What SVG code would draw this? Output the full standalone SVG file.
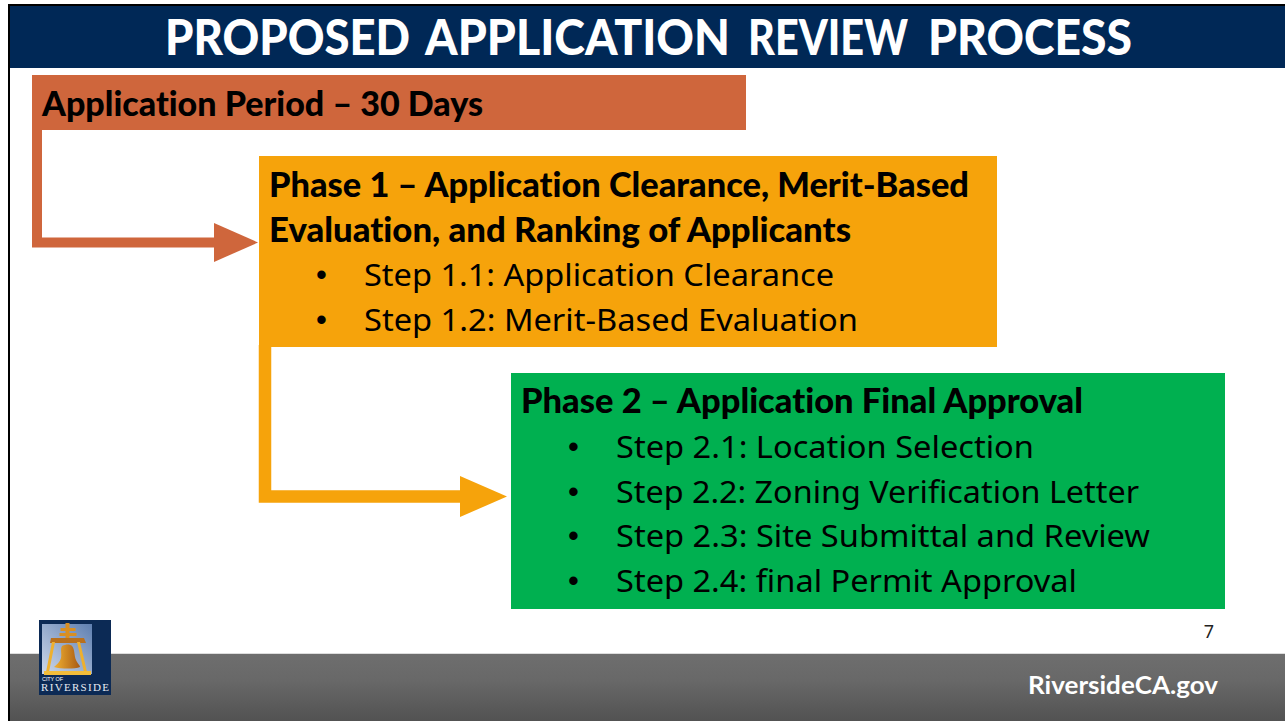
<svg xmlns="http://www.w3.org/2000/svg" width="1285" height="721" viewBox="0 0 1285 721">
<style>
text{font-variant-ligatures:none}
.h{font-family:"Lato","Liberation Sans",sans-serif;font-weight:900;font-size:33.500px;fill:#000}
.s{font-family:"Noto Sans","Liberation Sans",sans-serif;font-size:31.500px;fill:#000}
.b{font-family:"Liberation Sans",sans-serif;font-size:31px;fill:#000}
.t{font-family:"Lato","Liberation Sans",sans-serif;font-weight:900;font-size:49px;fill:#fff}
</style>
<defs>
<linearGradient id="foot" x1="0" y1="0" x2="0" y2="1"><stop offset="0" stop-color="#6e6e6e"/><stop offset="0.4" stop-color="#686868"/><stop offset="1" stop-color="#525252"/></linearGradient>
<linearGradient id="sky" x1="1" y1="0" x2="0" y2="1"><stop offset="0" stop-color="#5f7fb0"/><stop offset="1" stop-color="#cdd8ea"/></linearGradient>
<linearGradient id="bell" x1="0" y1="0" x2="1" y2="0"><stop offset="0" stop-color="#f0b030"/><stop offset="1" stop-color="#a85a14"/></linearGradient>
</defs>
<rect width="1285" height="721" fill="#fff"/>
<g id="frame">
<rect x="8" y="4" width="1277" height="717" fill="#000"/>
<rect x="10" y="6" width="1275" height="715" fill="#fff"/>
<rect x="10" y="6" width="1275" height="62" fill="#002856"/>
<rect x="10" y="654" width="1275" height="67" fill="url(#foot)"/>
<rect x="10" y="653" width="1275" height="1" fill="#ddd"/>
</g>
<g id="title">
<text class="t" x="165" y="55" textLength="245" lengthAdjust="spacingAndGlyphs">PROPOSED</text>
<text class="t" x="425" y="55" textLength="305" lengthAdjust="spacingAndGlyphs">APPLICATION</text>
<text class="t" x="748" y="55" textLength="160" lengthAdjust="spacingAndGlyphs">REVIEW</text>
<text class="t" x="928" y="55" textLength="204" lengthAdjust="spacingAndGlyphs">PROCESS</text>
</g>
<g id="connectors">
<path d="M37 130V242.500H230" fill="none" stroke="#cf663c" stroke-width="10"/>
<polygon points="214,223 258,242.500 214,262" fill="#cf663c"/>
<path d="M265 345V496.500H480" fill="none" stroke="#f6a30b" stroke-width="12.500"/>
<polygon points="460,476 507,496.500 460,517" fill="#f6a30b"/>
</g>
<g id="application-period">
<rect x="32" y="75" width="714" height="55" fill="#cf663c"/>
<text class="h" x="42" y="116" textLength="441" lengthAdjust="spacingAndGlyphs">Application Period – 30 Days</text>
</g>
<g id="phase-1">
<rect x="259" y="156" width="738" height="191" fill="#f6a30b"/>
<text class="h" x="269" y="197" textLength="700" lengthAdjust="spacingAndGlyphs">Phase 1 – Application Clearance, Merit-Based</text>
<text class="h" x="269" y="242" textLength="582" lengthAdjust="spacingAndGlyphs">Evaluation, and Ranking of Applicants</text>
<text class="b" x="316" y="285">•</text>
<text class="s" x="364" y="285.500" textLength="470" lengthAdjust="spacingAndGlyphs">Step 1.1: Application Clearance</text>
<text class="b" x="316" y="330">•</text>
<text class="s" x="364" y="330.500" textLength="494" lengthAdjust="spacingAndGlyphs">Step 1.2: Merit-Based Evaluation</text>
</g>
<g id="phase-2">
<rect x="511" y="373" width="714" height="236" fill="#00b050"/>
<text class="h" x="521" y="413" textLength="562" lengthAdjust="spacingAndGlyphs">Phase 2 – Application Final Approval</text>
<text class="b" x="568" y="457">•</text>
<text class="s" x="616" y="457.500" textLength="418" lengthAdjust="spacingAndGlyphs">Step 2.1: Location Selection</text>
<text class="b" x="568" y="502">•</text>
<text class="s" x="616" y="502.500" textLength="523" lengthAdjust="spacingAndGlyphs">Step 2.2: Zoning Verification Letter</text>
<text class="b" x="568" y="546">•</text>
<text class="s" x="616" y="546.500" textLength="534" lengthAdjust="spacingAndGlyphs">Step 2.3: Site Submittal and Review</text>
<text class="b" x="568" y="591">•</text>
<text class="s" x="616" y="591.500" textLength="461" lengthAdjust="spacingAndGlyphs">Step 2.4: final Permit Approval</text>
</g>
<g id="logo">
<rect x="39" y="620" width="72" height="75" fill="#0c2a55"/>
<rect x="42" y="624" width="50" height="50" fill="url(#sky)"/>
<path d="M65.500 623h4v5h6v3h-6v2h7v3h-7v3h-4v-3h-6v-3h6v-2h-5v-3h5z" fill="#d98f22"/>
<path d="M51 638h33l2 5H50z" fill="#b9701c"/>
<path d="M52 642l-6 30h3l6-30zM80 642l7 30h-3l-7-30z" fill="#eeb02e"/>
<path d="M44 671h47v4H44z" fill="#f3bd3a"/>
<path d="M62 646c4-2 8-2 10 0 3 3 2 10 4 14 1 3 4 5 4 7-5 2-19 2-26 0 3-3 6-5 7-9 1-4-1-9 1-12z" fill="url(#bell)"/>
<text x="42" y="681" font-family="'Liberation Sans',sans-serif" font-size="5.500" fill="#fff" textLength="21">CITY OF</text>
<text x="41" y="691" font-family="'Liberation Serif',serif" font-size="11" fill="#e8ecf2" textLength="68">RIVERSIDE</text>
</g>
<g id="footer-text">
<text x="1209" y="638" text-anchor="middle" font-family="'Noto Sans',sans-serif" font-size="18" fill="#222">7</text>
<text x="1028" y="694" textLength="190" lengthAdjust="spacingAndGlyphs" font-family="Lato,'Liberation Sans',sans-serif" font-weight="700" font-size="24" fill="#fff">RiversideCA.gov</text>
</g>
</svg>
